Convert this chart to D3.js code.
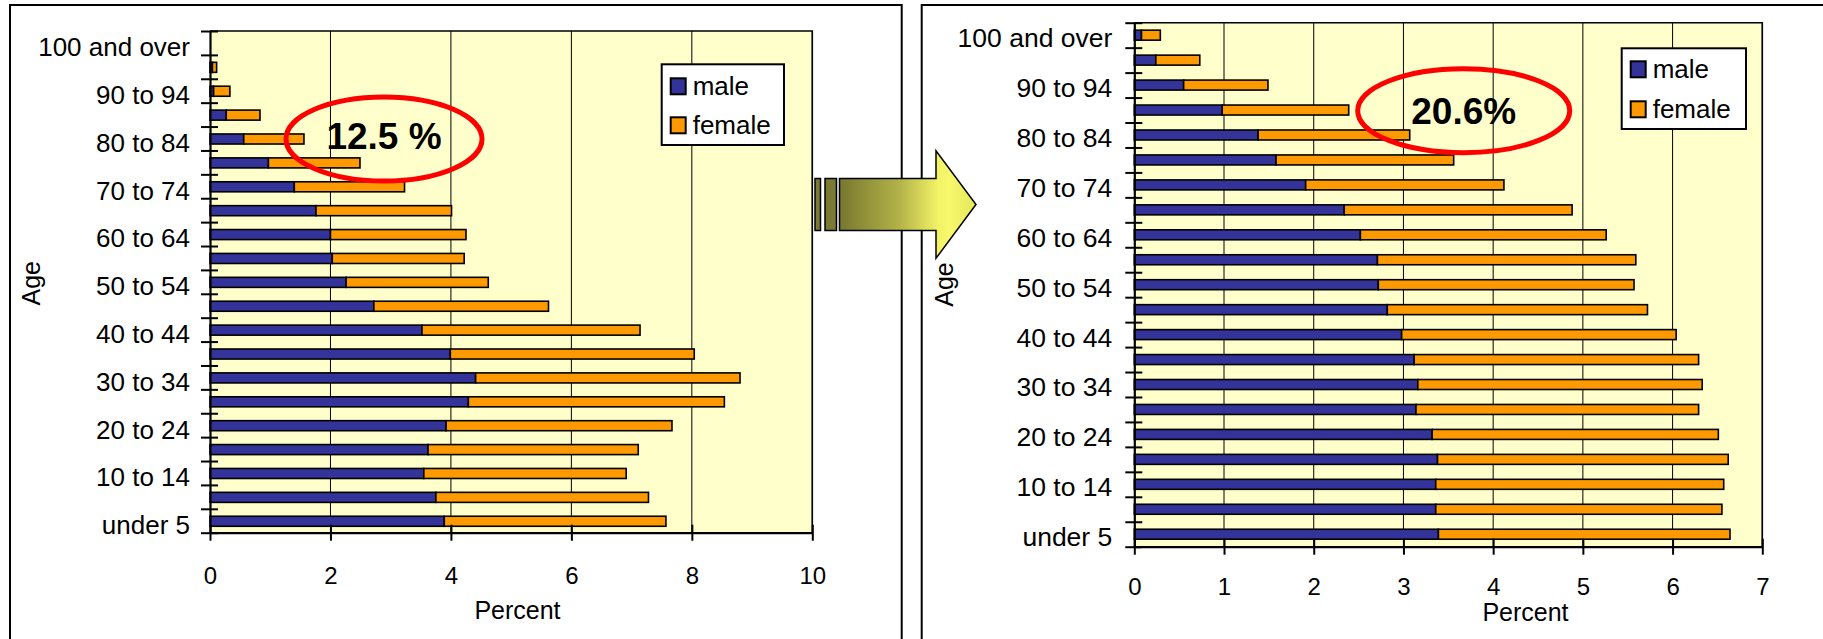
<!DOCTYPE html>
<html>
<head>
<meta charset="utf-8">
<script src="https://cdn.jsdelivr.net/npm/d3@7"></script>
<style>
  html, body { margin: 0; padding: 0; background: #fff; }
  svg { display: block; font-family: "Liberation Sans", Arial, sans-serif; }
</style>
</head>
<body>
<svg id="chart" width="1823" height="639"></svg>
<script>
// Age groups, youngest first
const ageGroups = ["under 5", "5 to 9", "10 to 14", "15 to 19", "20 to 24", "25 to 29",
  "30 to 34", "35 to 39", "40 to 44", "45 to 49", "50 to 54", "55 to 59", "60 to 64",
  "65 to 69", "70 to 74", "75 to 79", "80 to 84", "85 to 89", "90 to 94", "95 to 99",
  "100 and over"];
// only every other group gets a label on the axis
const labelledGroups = ageGroups.filter((d, i) => i % 2 === 0);

// Share of total population (%), earlier year
const maleBefore   = [3.89, 3.75, 3.55, 3.62, 3.92, 4.29, 4.41, 3.99, 3.52, 2.72, 2.26,
                      2.03, 2.00, 1.76, 1.40, 0.97, 0.56, 0.27, 0.06, 0.04, 0];
const femaleBefore = [3.68, 3.53, 3.36, 3.49, 3.75, 4.25, 4.39, 4.05, 3.62, 2.90, 2.36,
                      2.19, 2.25, 2.25, 1.83, 1.52, 1.00, 0.56, 0.27, 0.07, 0];

// Share of total population (%), projected year
const maleAfter   = [3.39, 3.36, 3.36, 3.38, 3.32, 3.14, 3.16, 3.12, 2.98, 2.82, 2.72,
                     2.71, 2.52, 2.34, 1.91, 1.58, 1.38, 0.98, 0.55, 0.24, 0.08];
const femaleAfter = [3.25, 3.19, 3.21, 3.24, 3.19, 3.15, 3.17, 3.17, 3.06, 2.90, 2.85,
                     2.88, 2.74, 2.54, 2.21, 1.98, 1.69, 1.41, 0.94, 0.49, 0.21];

const ticksBefore = [0, 2, 4, 6, 8, 10];
const ticksAfter  = [0, 1, 2, 3, 4, 5, 6, 7];
const seriesNames = ["male", "female"];
const calloutBefore = "12.5 %";
const calloutAfter  = "20.6%";
const axisTitleX = "Percent";
const axisTitleY = "Age";

const colors = { male: "#333399", female: "#FF9900" };
const FONT = "'Liberation Sans', Arial, sans-serif";

const svg = d3.select("#chart");

function drawPyramid(o) {
  const g = svg.append("g");

  // outer chart frame
  g.append("rect")
    .attr("x", o.frame[0]).attr("y", o.frame[1])
    .attr("width", o.frame[2]).attr("height", o.frame[3])
    .attr("fill", "#fff").attr("stroke", "#000").attr("stroke-width", 2);

  const x = d3.scaleLinear().domain([0, o.ticks[o.ticks.length - 1]]).range([o.left, o.right]);
  const y = d3.scaleBand().domain(ageGroups.slice().reverse()).range([o.top, o.bottom]);
  const yEdge = d3.scaleLinear().domain([0, ageGroups.length]).range([o.bottom, o.top]);

  // plot area
  g.append("rect")
    .attr("x", o.left).attr("y", o.top)
    .attr("width", o.right - o.left).attr("height", o.bottom - o.top)
    .attr("fill", "#FFFFCC");

  // vertical gridlines
  g.append("g").selectAll("line")
    .data(o.ticks.filter(t => t > 0))
    .join("line")
    .attr("x1", d => x(d)).attr("x2", d => x(d))
    .attr("y1", o.top).attr("y2", o.bottom)
    .attr("stroke", "#000").attr("stroke-width", 1);

  // plot area border (top and right)
  g.append("path")
    .attr("d", `M${o.left},${o.top}H${o.right}V${o.bottom}`)
    .attr("fill", "none").attr("stroke", "#000").attr("stroke-width", 1.6);

  // stacked bars: male then female
  const rows = ageGroups.map((a, i) => ({ age: a, male: o.male[i], female: o.female[i] }));
  const bh = y.bandwidth() * o.barFrac;
  const rowG = g.append("g").selectAll("g")
    .data(rows)
    .join("g")
    .attr("transform", d => `translate(0,${y(d.age) + (y.bandwidth() - bh) / 2 + o.barShift})`);
  rowG.filter(d => d.male > 0).append("rect")
    .attr("x", x(0)).attr("y", 0)
    .attr("width", d => x(d.male) - x(0)).attr("height", bh)
    .attr("fill", colors.male).attr("stroke", "#000").attr("stroke-width", 1.6);
  rowG.filter(d => d.female > 0).append("rect")
    .attr("x", d => x(d.male)).attr("y", 0)
    .attr("width", d => x(d.male + d.female) - x(d.male)).attr("height", bh)
    .attr("fill", colors.female).attr("stroke", "#000").attr("stroke-width", 1.6);

  // y axis with crossing ticks at group boundaries
  const ya = g.append("g")
    .attr("transform", `translate(${o.left},0)`)
    .call(d3.axisLeft(yEdge).tickValues(d3.range(0, ageGroups.length + 1)).tickFormat("").tickSize(9).tickSizeOuter(0));
  ya.selectAll(".tick line").attr("x1", 8).attr("stroke", "#000").attr("stroke-width", 2);
  ya.select(".domain").attr("stroke", "#000").attr("stroke-width", 2.2);

  // y labels
  const yl = g.append("g")
    .attr("transform", `translate(${o.left},${o.labelShift})`)
    .call(d3.axisLeft(y).tickValues(labelledGroups).tickSize(0).tickPadding(o.labelPad));
  yl.select(".domain").remove();
  yl.attr("font-family", FONT).attr("font-size", o.labelSize);
  yl.selectAll("text").attr("fill", "#000");

  // x axis with crossing ticks
  const xa = g.append("g")
    .attr("transform", `translate(0,${o.bottom})`)
    .call(d3.axisBottom(x).tickValues(o.ticks).tickFormat(d3.format("d"))
      .tickSize(8).tickSizeOuter(0).tickPadding(o.xPad));
  xa.selectAll(".tick line").attr("y1", -8).attr("stroke", "#000").attr("stroke-width", 2);
  xa.select(".domain").attr("stroke", "#000").attr("stroke-width", 2.2);
  xa.attr("font-family", FONT).attr("font-size", 24);
  xa.selectAll("text").attr("fill", "#000");

  // axis titles
  g.append("text")
    .attr("x", o.xTitle[0]).attr("y", o.xTitle[1])
    .attr("text-anchor", "middle")
    .attr("font-family", FONT).attr("font-size", 25)
    .text(axisTitleX);
  g.append("text")
    .attr("transform", `translate(${o.yTitle[0]},${o.yTitle[1]}) rotate(-90)`)
    .attr("text-anchor", "middle")
    .attr("font-family", FONT).attr("font-size", 25)
    .text(axisTitleY);

  // legend
  const lg = g.append("g");
  lg.append("rect")
    .attr("x", o.legend[0]).attr("y", o.legend[1])
    .attr("width", o.legend[2]).attr("height", o.legend[3])
    .attr("fill", "#fff").attr("stroke", "#000").attr("stroke-width", 2);
  seriesNames.forEach((name, i) => {
    const cy = o.legend[1] + o.legendRow0 + i * o.legendGap;
    lg.append("rect")
      .attr("x", o.legend[0] + 9).attr("y", cy - 8)
      .attr("width", 15).attr("height", 16)
      .attr("fill", colors[name]).attr("stroke", "#000").attr("stroke-width", 2);
    lg.append("text")
      .attr("x", o.legend[0] + 31).attr("y", cy + 9)
      .attr("font-family", FONT).attr("font-size", 26)
      .text(name);
  });

  // callout: share of population aged 65 and over
  g.append("ellipse")
    .attr("cx", o.callout[0]).attr("cy", o.callout[1])
    .attr("rx", o.callout[2]).attr("ry", o.callout[3])
    .attr("fill", "none").attr("stroke", "#FF0000").attr("stroke-width", 5);
  g.append("text")
    .attr("x", o.callout[0]).attr("y", o.calloutTextY)
    .attr("text-anchor", "middle")
    .attr("font-family", FONT).attr("font-size", 37).attr("font-weight", "bold")
    .text(o.calloutText);
}

drawPyramid({
  frame: [10, 5, 891.7, 660],
  left: 210, right: 812.3, top: 31, bottom: 532.7,
  ticks: ticksBefore, male: maleBefore, female: femaleBefore,
  barFrac: 0.42, barShift: 0.5,
  labelSize: 26, labelPad: 20, labelShift: 5,
  xPad: 26,
  xTitle: [517.5, 619], yTitle: [40, 283.3],
  legend: [661.7, 64.3, 122.3, 80.7], legendRow0: 22, legendGap: 39,
  callout: [384, 139, 98, 42], calloutTextY: 149, calloutText: calloutBefore
});

drawPyramid({
  frame: [921.7, 5, 920, 660],
  left: 1134.3, right: 1762.3, top: 22.7, bottom: 546.7,
  ticks: ticksAfter, male: maleAfter, female: femaleAfter,
  barFrac: 0.4, barShift: 0,
  labelSize: 26.5, labelPad: 22, labelShift: 3.5,
  xPad: 23,
  xTitle: [1525.5, 620.6], yTitle: [953, 284.5],
  legend: [1621.7, 48.3, 124.3, 80.7], legendRow0: 21, legendGap: 40,
  callout: [1463.7, 110.7, 106, 42], calloutTextY: 123.5, calloutText: calloutAfter
});

// transition arrow between the two charts
const defs = svg.append("defs");
const grad = defs.append("linearGradient")
  .attr("id", "arrowFill")
  .attr("gradientUnits", "userSpaceOnUse")
  .attr("x1", 839).attr("y1", 0).attr("x2", 976).attr("y2", 0);
[["0%", "#77772F"], ["45%", "#B4B44A"], ["72%", "#F2F266"], ["80%", "#F8F86C"], ["100%", "#E4E85A"]]
  .forEach(([off, c]) => grad.append("stop").attr("offset", off).attr("stop-color", c));

const arrow = svg.append("g");
arrow.append("rect").attr("x", 815).attr("y", 178.5).attr("width", 5.5).attr("height", 52)
  .attr("fill", "#7A7A35").attr("stroke", "#000").attr("stroke-width", 1.5);
arrow.append("rect").attr("x", 825).attr("y", 178.5).attr("width", 11.5).attr("height", 52)
  .attr("fill", "#7A7A35").attr("stroke", "#000").attr("stroke-width", 1.5);
arrow.append("path")
  .attr("d", "M839.5,178.5H936V150.7L976,204.5L936,258.3V230.5H839.5Z")
  .attr("fill", "url(#arrowFill)").attr("stroke", "#000").attr("stroke-width", 1.5)
  .attr("stroke-linejoin", "miter");
</script>
</body>
</html>
